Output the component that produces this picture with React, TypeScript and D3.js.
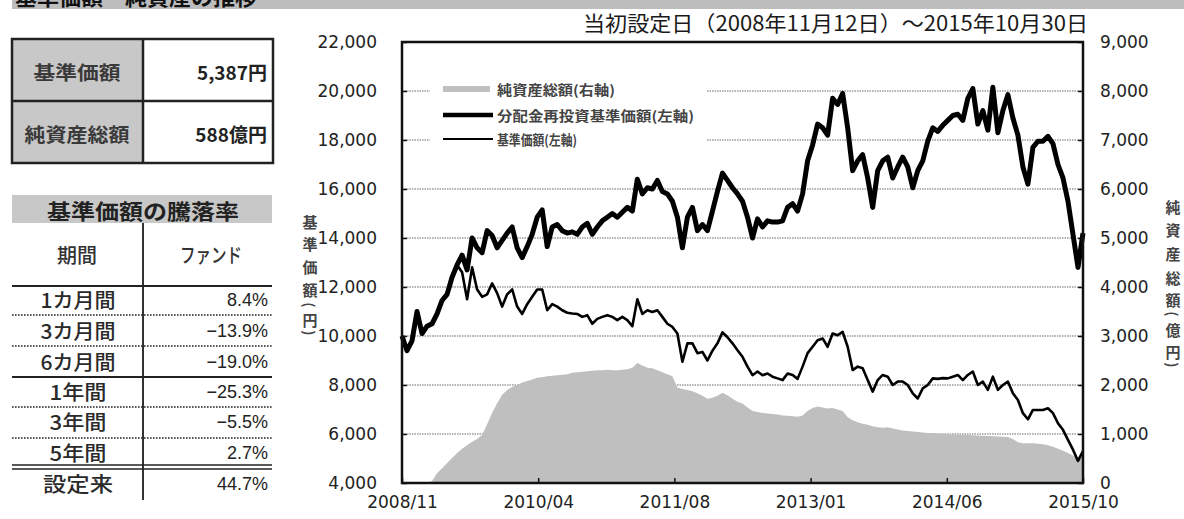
import { useEffect, useRef } from 'react';
import * as d3 from 'd3';

// x axis labels (evenly spaced along the trading-day axis)
const xTickLabels = ['2008/11', '2010/04', '2011/08', '2013/01', '2014/06', '2015/10'];
const leftTicks = [4000, 6000, 8000, 10000, 12000, 14000, 16000, 18000, 20000, 22000];
const rightTicks = [0, 1000, 2000, 3000, 4000, 5000, 6000, 7000, 8000, 9000];

// 分配金再投資基準価額 (yen, left axis)
const reinvestedNav = [
  10000, 9400, 9800, 11000, 10100, 10400, 10500, 10900, 11450, 11700,
  12400, 12900, 13300, 12700, 14000, 13600, 13400, 14300, 14100, 13600,
  13900, 14200, 14450, 13600, 13200, 13650, 14150, 14850, 15150, 13650,
  14450, 14550, 14300, 14200, 14250, 14150, 14450, 14600, 14150, 14450,
  14700, 14850, 15000, 14850, 15050, 15250, 15100, 16400, 15800, 16050,
  16000, 16350, 15900, 15800, 15500, 14850, 13600, 14850, 15250, 14300,
  14550, 14300, 15100, 15900, 16650, 16350, 16050, 15800, 15500, 14850,
  14000, 14780, 14450, 14700, 14650, 14650, 14700, 15250, 15400, 15100,
  15800, 17150, 17800, 18650, 18500, 18200, 19700, 19450, 19900, 18500,
  16750, 17150, 17400, 16450, 15250, 16750, 17150, 17300, 16450, 16900,
  17300, 16900, 16050, 16750, 17150, 17950, 18500, 18350, 18600, 18800,
  19000, 19050, 18800, 19700, 20100, 18650, 19200, 18400, 20150, 18300,
  19200, 19850, 18900, 18200, 16900, 16200, 17700, 17950, 17950, 18150,
  17850, 17000, 16450, 15500, 14150, 12800, 14200,
];

// 基準価額 (yen, left axis)
const nav = [
  10000, 9400, 9800, 11000, 10100, 10400, 10500, 10900, 11450, 11700,
  12400, 12900, 12600, 11500, 12800, 11900, 11600, 11700, 12150, 11750,
  11200, 11700, 11900, 11200, 10900, 11300, 11600, 11900, 11900, 11050,
  11300, 11200, 11050, 10950, 10920, 10900, 10780, 10850, 10500, 10700,
  10780, 10850, 10780, 10650, 10780, 10650, 10400, 11500, 10900, 11050,
  10980, 11050, 10780, 10500, 10370, 10100, 8950, 9700, 9700, 9300,
  9350, 9000, 9400, 9700, 10150, 9950, 9700, 9420, 9150, 8750,
  8400, 8550, 8400, 8470, 8340, 8270, 8200, 8470, 8410, 8250,
  8750, 9300, 9560, 9830, 9900, 9560, 10100, 10030, 10170, 9560,
  8610, 8750, 8680, 8200, 7730, 8200, 8410, 8340, 8000, 8140,
  8140, 8000, 7660, 7450, 7860, 8000, 8270, 8250, 8280, 8270,
  8340, 8410, 8200, 8410, 8550, 8000, 8140, 7800, 8340, 7800,
  8000, 8140, 7660, 7390, 6850, 6600, 6980, 6980, 6980, 7050,
  6850, 6440, 6170, 5760, 5360, 4900, 5300,
];

// 純資産総額 (億円, right axis)
const netAssets = [
  0, 0, 0, 0, 0, 0, 40, 200, 300, 410,
  510, 610, 700, 770, 840, 900, 980, 1200, 1430, 1630,
  1800, 1900, 1960, 2000, 2050, 2080, 2110, 2150, 2160, 2180,
  2190, 2200, 2210, 2220, 2250, 2260, 2270, 2280, 2290, 2300,
  2300, 2310, 2300, 2300, 2310, 2320, 2350, 2450, 2400, 2350,
  2340, 2300, 2260, 2220, 2180, 1950, 1920, 1900, 1870, 1830,
  1780, 1720, 1740, 1780, 1840, 1790, 1720, 1660, 1620, 1540,
  1470, 1450, 1430, 1420, 1410, 1400, 1380, 1370, 1360, 1350,
  1380, 1470, 1530, 1560, 1540, 1520, 1530, 1500, 1470, 1340,
  1280, 1240, 1210, 1190, 1160, 1140, 1130, 1140, 1110, 1090,
  1070, 1060, 1050, 1040, 1030, 1020, 1020, 1010, 1000, 1000,
  990, 990, 985, 980, 975, 970, 965, 960, 955, 950,
  945, 940, 900, 830, 810, 810, 810, 800, 790, 770,
  740, 700, 660, 610, 560, 510, 560,
];

const summaryLabels = ['基準価額', '純資産総額'];
const summaryValues = ['5,387円', '588億円'];

const periodLabels = ['1カ月間', '3カ月間', '6カ月間', '1年間', '3年間', '5年間', '設定来'];
const periodReturns = [8.4, -13.9, -19.0, -25.3, -5.5, 2.7, 44.7];

const legendLabels = ['純資産総額(右軸)', '分配金再投資基準価額(左軸)', '基準価額(左軸)'];

const JP = '"Noto Sans CJK JP", sans-serif';
const NUM = '"DejaVu Sans", sans-serif';

export default function App() {
  const svgRef = useRef<SVGSVGElement>(null);

  useEffect(() => {
    if (!svgRef.current) return;
    const svg = d3.select(svgRef.current);
    svg.selectAll('*').remove();

    // ---- page header bar (cut off at the top)
    svg.append('rect').attr('x', 12).attr('y', -20).attr('width', 1172).attr('height', 29).attr('fill', '#bdbdbd');
    svg
      .append('text')
      .attr('x', 15)
      .attr('y', 5)
      .style('font-family', JP)
      .style('font-size', '22px')
      .style('font-weight', 700)
      .attr('fill', '#111')
      .text('基準価額・純資産の推移');

    // ---- summary table
    const t1 = svg.append('g');
    summaryLabels.forEach((lab, i) => {
      const y0 = 39 + i * 62;
      t1.append('rect').attr('x', 12).attr('y', y0).attr('width', 131).attr('height', 62).attr('fill', '#c8c8c8');
      t1.append('text')
        .attr('x', 77)
        .attr('y', y0 + 32)
        .attr('text-anchor', 'middle')
        .attr('dominant-baseline', 'central')
        .attr('textLength', i === 0 ? 87 : 105)
        .attr('lengthAdjust', 'spacingAndGlyphs')
        .style('font-family', JP)
        .style('font-size', '19px')
        .style('font-weight', 700)
        .attr('fill', '#3a3a3a')
        .text(lab);
      t1.append('text')
        .attr('x', 267)
        .attr('y', y0 + 32)
        .attr('text-anchor', 'end')
        .attr('dominant-baseline', 'central')
        .style('font-family', JP)
        .style('font-size', '19px')
        .style('font-weight', 700)
        .attr('fill', '#222')
        .text(summaryValues[i]);
    });
    t1.append('rect').attr('x', 12).attr('y', 39).attr('width', 261).attr('height', 124)
      .attr('fill', 'none').attr('stroke', '#222').attr('stroke-width', 2.5);
    t1.append('line').attr('x1', 143).attr('x2', 143).attr('y1', 39).attr('y2', 163).attr('stroke', '#222').attr('stroke-width', 2.5);
    t1.append('line').attr('x1', 12).attr('x2', 273).attr('y1', 101).attr('y2', 101).attr('stroke', '#222').attr('stroke-width', 2.5);

    // ---- returns table
    const t2 = svg.append('g');
    t2.append('rect').attr('x', 12).attr('y', 195).attr('width', 260).attr('height', 28).attr('fill', '#c8c8c8');
    t2.append('text')
      .attr('x', 143)
      .attr('y', 210)
      .attr('text-anchor', 'middle')
      .attr('dominant-baseline', 'central')
      .attr('textLength', 192)
      .attr('lengthAdjust', 'spacingAndGlyphs')
      .style('font-family', JP)
      .style('font-size', '21px')
      .style('font-weight', 700)
      .attr('fill', '#222')
      .text('基準価額の騰落率');
    t2.append('line').attr('x1', 143).attr('x2', 143).attr('y1', 223).attr('y2', 500).attr('stroke', '#333').attr('stroke-width', 2);
    t2.append('text').attr('x', 77).attr('y', 254).attr('text-anchor', 'middle').attr('dominant-baseline', 'central')
      .style('font-family', JP).style('font-size', '20px').style('font-weight', 500).attr('fill', '#333').text('期間');
    t2.append('text').attr('x', 211).attr('y', 254).attr('text-anchor', 'middle').attr('dominant-baseline', 'central')
      .attr('textLength', 62).attr('lengthAdjust', 'spacingAndGlyphs')
      .style('font-family', JP).style('font-size', '20px').style('font-weight', 500).attr('fill', '#333').text('ファンド');
    t2.append('line').attr('x1', 12).attr('x2', 272).attr('y1', 286).attr('y2', 286).attr('stroke', '#222').attr('stroke-width', 2);

    const rowCenters = [299, 330, 361, 391, 421, 452, 483];
    const sepY = [315, 346, 377, 407, 438, 465];
    const sepType = ['dot', 'dot', 'solid', 'dot', 'dot', 'double'];
    const fmt = (v: number) => (v < 0 ? '\u2212' : '') + Math.abs(v).toFixed(1) + '%';

    periodLabels.forEach((lab, i) => {
      const w = lab.length === 4 ? 75 : lab === '設定来' ? 70 : 57;
      t2.append('text')
        .attr('x', 78)
        .attr('y', rowCenters[i])
        .attr('text-anchor', 'middle')
        .attr('dominant-baseline', 'central')
        .attr('textLength', w)
        .attr('lengthAdjust', 'spacingAndGlyphs')
        .style('font-family', JP)
        .style('font-size', '20px')
        .style('font-weight', 500)
        .attr('fill', '#2a2a2a')
        .text(lab);
      t2.append('text')
        .attr('x', 268)
        .attr('y', rowCenters[i] + 1)
        .attr('text-anchor', 'end')
        .attr('dominant-baseline', 'central')
        .style('font-family', '"Liberation Sans", Arial, sans-serif')
        .style('font-size', '18px')
        .attr('fill', '#222')
        .text(fmt(periodReturns[i]));
    });
    sepY.forEach((y, i) => {
      if (sepType[i] === 'double') {
        [y, y + 4].forEach((yy) =>
          t2.append('line').attr('x1', 12).attr('x2', 272).attr('y1', yy).attr('y2', yy).attr('stroke', '#222').attr('stroke-width', 1.6)
        );
      } else {
        t2.append('line')
          .attr('x1', 12).attr('x2', 272).attr('y1', y).attr('y2', y)
          .attr('stroke', '#222')
          .attr('stroke-width', sepType[i] === 'solid' ? 2 : 1.6)
          .attr('stroke-dasharray', sepType[i] === 'dot' ? '1.6,1.4' : null);
      }
    });

    // ---- chart
    const left = 402;
    const right = 1083;
    const top = 42;
    const bottom = 483;
    const n = reinvestedNav.length;

    const x = d3.scaleLinear().domain([0, n - 1]).range([left, right]);
    const yL = d3.scaleLinear().domain([4000, 22000]).range([bottom, top]);
    const yR = d3.scaleLinear().domain([0, 9000]).range([bottom, top]);

    const chart = svg.append('g');

    // gridlines
    chart
      .selectAll('.grid')
      .data(leftTicks.filter((t) => t > 4000 && t < 22000))
      .join('line')
      .attr('x1', left)
      .attr('x2', right)
      .attr('y1', (d) => yL(d))
      .attr('y2', (d) => yL(d))
      .attr('stroke', '#9a9a9a')
      .attr('stroke-width', 1.5)
      .attr('stroke-dasharray', '1.5,1');

    // legend backdrop hides the gridlines behind it
    chart.append('rect').attr('x', 430).attr('y', 72).attr('width', 276).attr('height', 84).attr('fill', '#fff');

    // net assets area
    const area = d3
      .area<number>()
      .x((_, i) => x(i))
      .y0(yR(0))
      .y1((d) => yR(d));
    chart.append('path').datum(netAssets).attr('fill', '#bfbfbf').attr('d', area);

    const lineL = d3
      .line<number>()
      .x((_, i) => x(i))
      .y((d) => yL(d));
    chart.append('path').datum(nav).attr('fill', 'none').attr('stroke', '#000').attr('stroke-width', 2.6)
      .attr('stroke-linejoin', 'round').attr('d', lineL);
    chart.append('path').datum(reinvestedNav).attr('fill', 'none').attr('stroke', '#000').attr('stroke-width', 5)
      .attr('stroke-linejoin', 'round').attr('d', lineL);

    // axes
    const axisStyle = (g: d3.Selection<SVGGElement, unknown, null, undefined>) => {
      g.select('.domain').remove();
      g.selectAll('line').attr('stroke', '#111').attr('stroke-width', 1.5);
      g.selectAll('text').style('font-family', NUM).style('font-size', '17px').attr('fill', '#222');
    };

    chart
      .append('g')
      .attr('transform', `translate(${left},0)`)
      .call(d3.axisLeft(yL).tickValues(leftTicks).tickFormat(d3.format(',') as any).tickSize(-5).tickPadding(25))
      .call(axisStyle);

    chart
      .append('g')
      .attr('transform', `translate(${right},0)`)
      .call(d3.axisRight(yR).tickValues(rightTicks).tickFormat(d3.format(',') as any).tickSize(-5).tickPadding(17))
      .call(axisStyle);

    const xTickValues = xTickLabels.map((_, i) => (i * (n - 1)) / (xTickLabels.length - 1));
    chart
      .append('g')
      .attr('transform', `translate(0,${bottom})`)
      .call(
        d3
          .axisBottom(x)
          .tickValues(xTickValues)
          .tickFormat((_, i) => xTickLabels[i])
          .tickSize(-5)
          .tickPadding(13)
      )
      .call(axisStyle);

    // frame
    chart.append('rect').attr('x', left).attr('y', top).attr('width', right - left).attr('height', bottom - top)
      .attr('fill', 'none').attr('stroke', '#111').attr('stroke-width', 2.5);

    // legend
    const legend = chart.append('g');
    legend.append('rect').attr('x', 443).attr('y', 86).attr('width', 47).attr('height', 6).attr('fill', '#c0c0c0');
    legend.append('line').attr('x1', 443).attr('x2', 493).attr('y1', 115).attr('y2', 115).attr('stroke', '#000').attr('stroke-width', 4.5);
    legend.append('line').attr('x1', 443).attr('x2', 493).attr('y1', 139).attr('y2', 139).attr('stroke', '#000').attr('stroke-width', 2);
    const legendY = [89, 115, 139];
    const legendW = [118, 197, 80];
    legendLabels.forEach((lab, i) => {
      legend
        .append('text')
        .attr('x', 497)
        .attr('y', legendY[i])
        .attr('dominant-baseline', 'central')
        .attr('textLength', legendW[i])
        .attr('lengthAdjust', 'spacingAndGlyphs')
        .style('font-family', JP)
        .style('font-size', '13.5px')
        .style('font-weight', 700)
        .attr('fill', '#444')
        .text(lab);
    });

    // chart title
    chart
      .append('text')
      .attr('x', 583)
      .attr('y', 31)
      .attr('textLength', 505)
      .attr('lengthAdjust', 'spacingAndGlyphs')
      .style('font-family', JP)
      .style('font-size', '21px')
      .attr('fill', '#1a1a1a')
      .text('当初設定日（2008年11月12日）～2015年10月30日');

    // vertical axis titles (parentheses turned to lie across the column)
    const vChar = (ch: string, cx: number, cy: number) => {
      const isParen = ch === '(' || ch === ')';
      chart
        .append('text')
        .attr('transform', `translate(${cx},${cy})${isParen ? ' rotate(90)' : ''}`)
        .attr('text-anchor', 'middle')
        .attr('dominant-baseline', 'central')
        .style('font-family', JP)
        .style('font-size', isParen ? '14px' : '15px')
        .style('font-weight', 700)
        .attr('fill', '#444')
        .text(ch);
    };
    const leftTitle = ['基', '準', '価', '額', '(', '円', ')'];
    const leftTitleY = [221, 243, 266, 289, 305, 319, 333];
    leftTitle.forEach((ch, i) => vChar(ch, 310, leftTitleY[i]));
    const rightTitle = ['純', '資', '産', '総', '額', '(', '億', '円', ')'];
    const rightTitleY = [206, 229, 253, 277, 299, 314, 329, 351, 365];
    rightTitle.forEach((ch, i) => vChar(ch, 1173, rightTitleY[i]));
  }, []);

  return (
    <svg
      ref={svgRef}
      width={1184}
      height={519}
      style={{ position: 'absolute', left: 0, top: 0, background: '#fff' }}
    />
  );
}
